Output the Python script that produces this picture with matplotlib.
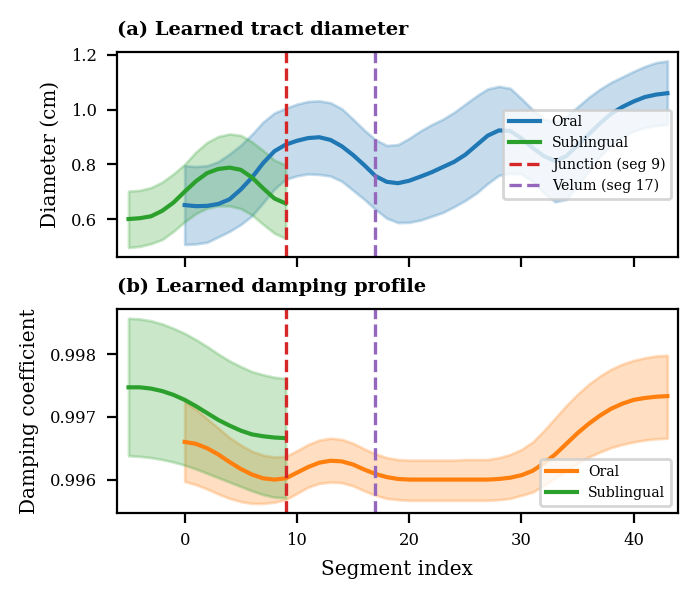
import matplotlib
matplotlib.use("Agg")
import matplotlib.pyplot as plt
import numpy as np

plt.rcParams['font.family'] = 'serif'
plt.rcParams['font.serif'] = ['DejaVu Serif']

# segment positions
seg_oral = list(range(0, 44))
seg_sub = list(range(-5, 10))

# (a) diameter, cm
diam_oral = [0.651, 0.647, 0.648, 0.655, 0.672, 0.708, 0.752, 0.805, 0.848, 0.872,
             0.886, 0.896, 0.899, 0.889, 0.866, 0.834, 0.797, 0.757, 0.736, 0.731,
             0.740, 0.755, 0.771, 0.790, 0.809, 0.835, 0.870, 0.905, 0.924, 0.922,
             0.895, 0.860, 0.830, 0.812, 0.830, 0.870, 0.910, 0.950, 0.985, 1.010,
             1.030, 1.046, 1.055, 1.060]
diam_oral_hi = [0.795, 0.792, 0.795, 0.810, 0.838, 0.870, 0.910, 0.955, 0.988, 1.005,
                1.020, 1.030, 1.032, 1.025, 1.003, 0.965, 0.925, 0.890, 0.869, 0.872,
                0.895, 0.922, 0.945, 0.965, 0.990, 1.020, 1.050, 1.076, 1.085, 1.078,
                1.040, 1.000, 0.965, 0.955, 0.975, 1.010, 1.045, 1.075, 1.100, 1.120,
                1.140, 1.158, 1.172, 1.178]
diam_oral_lo = [0.507, 0.509, 0.515, 0.535, 0.555, 0.580, 0.612, 0.660, 0.710, 0.745,
                0.758, 0.765, 0.763, 0.757, 0.738, 0.705, 0.672, 0.635, 0.603, 0.587,
                0.588, 0.596, 0.610, 0.624, 0.645, 0.668, 0.695, 0.730, 0.760, 0.767,
                0.765, 0.738, 0.695, 0.663, 0.672, 0.722, 0.775, 0.830, 0.870, 0.900,
                0.922, 0.935, 0.942, 0.945]
diam_sub = [0.600, 0.603, 0.610, 0.630, 0.660, 0.700, 0.738, 0.768, 0.783, 0.788,
            0.780, 0.752, 0.712, 0.675, 0.657]
diam_sub_hi = [0.702, 0.705, 0.715, 0.735, 0.765, 0.800, 0.845, 0.880, 0.902, 0.911,
               0.906, 0.882, 0.850, 0.815, 0.798]
diam_sub_lo = [0.496, 0.500, 0.510, 0.525, 0.555, 0.590, 0.620, 0.640, 0.648, 0.648,
               0.638, 0.615, 0.580, 0.548, 0.529]

# (b) damping coefficient
damp_oral = [0.99660, 0.99657, 0.99650, 0.99640, 0.99628, 0.99617, 0.99608, 0.99602, 0.99600, 0.99602,
             0.99611, 0.99620, 0.99627, 0.99630, 0.99629, 0.99624, 0.99616, 0.99609, 0.99604, 0.99601,
             0.99600, 0.99600, 0.99600, 0.99600, 0.99600, 0.99600, 0.99600, 0.99600, 0.99601, 0.99603,
             0.99607, 0.99614, 0.99626, 0.99640, 0.99657, 0.99674, 0.99689, 0.99702, 0.99713, 0.99721,
             0.99727, 0.99730, 0.99732, 0.99733]
damp_oral_hi = [0.99724, 0.99712, 0.99697, 0.99682, 0.99667, 0.99655, 0.99645, 0.99639, 0.99636, 0.99637,
                0.99646, 0.99656, 0.99663, 0.99666, 0.99664, 0.99658, 0.99649, 0.99641, 0.99635, 0.99632,
                0.99631, 0.99631, 0.99631, 0.99631, 0.99631, 0.99632, 0.99632, 0.99632, 0.99635, 0.99640,
                0.99648, 0.99660, 0.99678, 0.99698, 0.99718, 0.99736, 0.99752, 0.99765, 0.99776, 0.99784,
                0.99790, 0.99794, 0.99797, 0.99798]
damp_oral_lo = [0.99597, 0.99592, 0.99585, 0.99577, 0.99570, 0.99565, 0.99562, 0.99562, 0.99564, 0.99568,
                0.99578, 0.99588, 0.99594, 0.99596, 0.99595, 0.99590, 0.99582, 0.99575, 0.99570, 0.99568,
                0.99567, 0.99567, 0.99567, 0.99567, 0.99567, 0.99567, 0.99567, 0.99567, 0.99568, 0.99570,
                0.99575, 0.99580, 0.99591, 0.99602, 0.99614, 0.99626, 0.99636, 0.99644, 0.99651, 0.99656,
                0.99660, 0.99663, 0.99665, 0.99666]
damp_sub = [0.99747, 0.99747, 0.99745, 0.99741, 0.99735, 0.99727, 0.99717, 0.99706, 0.99695, 0.99686,
            0.99678, 0.99672, 0.99669, 0.99667, 0.99666]
damp_sub_hi = [0.99857, 0.99856, 0.99853, 0.99848, 0.99841, 0.99833, 0.99823, 0.99812, 0.99800, 0.99789,
               0.99780, 0.99772, 0.99767, 0.99763, 0.99761]
damp_sub_lo = [0.99638, 0.99637, 0.99635, 0.99632, 0.99628, 0.99623, 0.99617, 0.99610, 0.99603, 0.99596,
               0.99589, 0.99582, 0.99576, 0.99572, 0.99571]

junction_seg = 9
velum_seg = 17

fig = plt.figure(figsize=(3.495, 3.0), dpi=200)
ax1 = fig.add_axes([0.167, 0.572, 0.803, 0.342])
ax2 = fig.add_axes([0.167, 0.1455, 0.803, 0.3395], sharex=ax1)

# top panel
ax1.fill_between(seg_oral, diam_oral_lo, diam_oral_hi, color='C0', alpha=0.25)
ax1.fill_between(seg_sub, diam_sub_lo, diam_sub_hi, color='C2', alpha=0.25)
ax1.plot(seg_oral, diam_oral, color='C0', lw=1.5, label='Oral')
ax1.plot(seg_sub, diam_sub, color='C2', lw=1.5, label='Sublingual')
ax1.axvline(junction_seg, color='C3', ls='--', lw=1.2, label='Junction (seg 9)')
ax1.axvline(velum_seg, color='C4', ls='--', lw=1.2, label='Velum (seg 17)')
ax1.set_ylabel('Diameter (cm)', fontsize=7.2)
ax1.set_title('(a) Learned tract diameter', loc='left', fontsize=7.0, fontweight='bold')
ax1.legend(loc='center right', fontsize=5.1, handlelength=2.2)
ax1.tick_params(labelbottom=False, labelsize=5.9)

# bottom panel
ax2.fill_between(seg_oral, damp_oral_lo, damp_oral_hi, color='C1', alpha=0.25)
ax2.fill_between(seg_sub, damp_sub_lo, damp_sub_hi, color='C2', alpha=0.25)
ax2.plot(seg_oral, damp_oral, color='C1', lw=1.5, label='Oral')
ax2.plot(seg_sub, damp_sub, color='C2', lw=1.5, label='Sublingual')
ax2.axvline(junction_seg, color='C3', ls='--', lw=1.2)
ax2.axvline(velum_seg, color='C4', ls='--', lw=1.2)
ax2.set_ylabel('Damping coefficient', fontsize=7.2)
ax2.set_xlabel('Segment index', fontsize=7.2)
ax2.set_title('(b) Learned damping profile', loc='left', fontsize=7.0, fontweight='bold')
ax2.legend(loc='lower right', fontsize=5.1, handlelength=2.2)
ax2.tick_params(labelsize=5.9)
ax2.set_yticks([0.996, 0.997, 0.998])
ax2.ticklabel_format(axis='y', useOffset=False)

ax1.set_xlim(-6.05, 43.95)
ax1.set_yticks([0.6, 0.8, 1.0, 1.2])

fig.savefig('out.png', dpi=200)
